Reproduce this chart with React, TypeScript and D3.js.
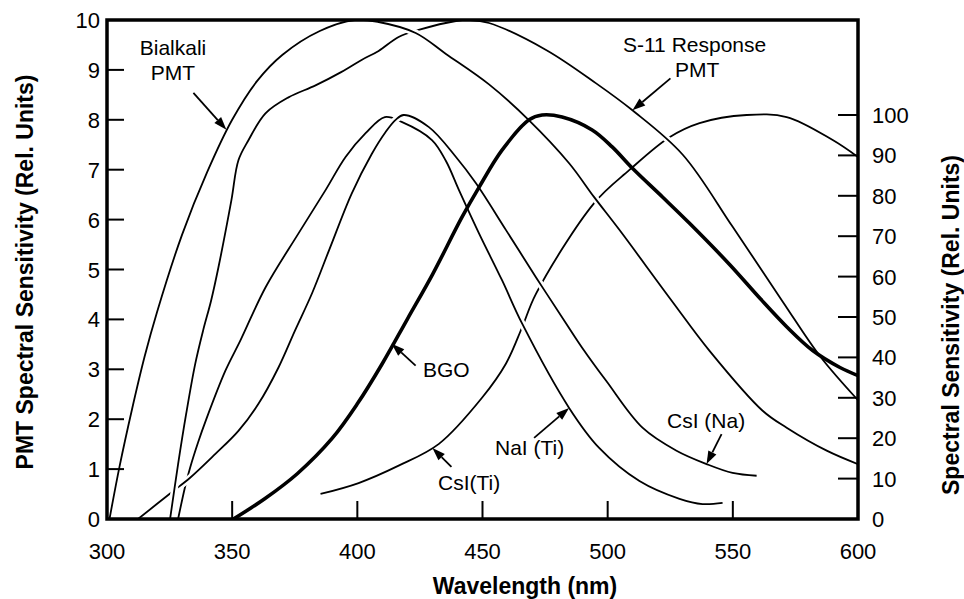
import React, { useRef, useEffect } from "react";
import * as d3 from "d3";

type Pt = [number, number];

// [wavelength nm, PMT sensitivity 0-10] (left axis)
const bialkaliPmt: Pt[] = [
  [301, 0], [305, 1.05], [310, 2.2], [315, 3.25], [320, 4.15], [330, 5.7], [340, 6.95],
  [350, 8.0], [360, 8.78], [370, 9.3], [385, 9.78], [399, 10.0], [408.5, 9.96], [423.3, 9.74],
  [435.4, 9.32], [452.6, 8.71], [468.6, 7.99], [484.6, 7.13], [494.6, 6.45], [504.6, 5.8],
  [525.5, 4.38], [540.7, 3.37], [561.9, 2.17], [571.5, 1.83], [587.5, 1.37], [600, 1.1],
];

const s11Pmt: Pt[] = [
  [325.2, 0], [328.4, 1.1], [331.6, 2.1], [335.2, 3.1], [338.4, 3.78], [341.6, 4.38],
  [344.5, 5.04], [349.7, 6.39], [352.5, 7.19], [356.5, 7.59], [363.3, 8.13], [372.5, 8.45],
  [383.3, 8.69], [393.7, 8.96], [401.7, 9.2], [408.5, 9.38], [416.5, 9.66], [424.5, 9.8],
  [439.4, 9.98], [445, 10], [452.6, 9.94], [475.4, 9.4], [495.4, 8.73], [509.9, 8.19],
  [530, 7.3], [550, 5.85], [570, 4.35], [585, 3.25], [600, 2.38],
];

// [wavelength nm, emission 0-100] (right axis)
const naiTl: Pt[] = [
  [328.4, 0], [331.2, 8], [333.2, 12.7], [336.4, 19], [339.6, 24.6], [347.3, 36.7],
  [353.3, 44.2], [363.3, 57.3], [376.5, 70.7], [387.3, 81.4], [395.3, 89.6], [403.3, 95.5],
  [411, 99.5], [417.7, 98.3], [429.8, 93.8], [435.4, 88.6], [440.6, 81.4], [448.6, 70.7],
  [457.8, 59.1], [465.8, 48.4], [484.6, 27.5], [496.6, 17.6], [512.7, 9.4], [528.7, 5.0],
  [537.9, 3.7], [545.9, 4.0],
];

const csiNa: Pt[] = [
  [312.4, 0], [325.6, 6.5], [333.2, 10.2], [343.3, 16.1], [352.5, 21.8], [360.5, 28.5],
  [368.5, 37.5], [375, 46.5], [382, 56], [389, 67], [397.7, 80.5], [405.7, 90.3],
  [411.3, 95.8], [415.3, 98.8], [418.5, 100], [428.6, 97.0], [439.4, 89.6], [447.4, 83.1],
  [459.4, 71.5], [471.4, 59.8], [483.4, 48.4], [489.8, 42.4], [499.4, 34.2], [513.9, 22.6],
  [527.5, 16.9], [539.5, 13.6], [549.9, 11.4], [559.5, 10.7],
];

const csiTl: Pt[] = [
  [385.3, 6.2], [400.5, 8.9], [416.5, 13.2], [432.6, 18.6], [449.8, 30], [459.4, 38.5],
  [465.8, 47.4], [471.4, 55.8], [494.6, 78.2], [508.7, 86.4], [524.7, 94.5], [536.7, 98.0],
  [555.5, 100], [571.5, 99.5], [589.9, 93.8], [600, 89.6],
];

const bgo: Pt[] = [
  [350.5, 0], [363, 5], [376, 11.2], [390, 20], [400, 28.5], [410, 38.5], [420, 49.5],
  [430, 60.5], [441.8, 74.7], [448.6, 82.1], [457.8, 91.3], [468.6, 98.8], [473.8, 100],
  [481.8, 99.5], [493.8, 96.3], [501.8, 92.1], [509.9, 86.8], [521.9, 79.7], [532.7, 73.2],
  [548.7, 63.0], [561, 54.5], [571.5, 47.6], [581.9, 41.7], [592.8, 37.5], [600, 35.5],
];

const xTicks = [300, 350, 400, 450, 500, 550, 600];
const leftTicks = [0, 1, 2, 3, 4, 5, 6, 7, 8, 9, 10];
const rightTicks = [0, 10, 20, 30, 40, 50, 60, 70, 80, 90, 100];

const FONT = "'Liberation Sans', Arial, Helvetica, sans-serif";

export default function App() {
  const svgRef = useRef<SVGSVGElement>(null);
  const width = 964;
  const height = 599;

  useEffect(() => {
    if (!svgRef.current) return;
    const svg = d3.select(svgRef.current);
    svg.selectAll("*").remove();

    const L = 107, R = 858, T = 20, B = 519;
    const x = d3.scaleLinear().domain([300, 600]).range([L, R]);
    const yL = d3.scaleLinear().domain([0, 10]).range([B, T]);
    const yR = d3.scaleLinear().domain([0, 100]).range([B, 115]);

    svg.append("defs").append("clipPath").attr("id", "plot")
      .append("rect").attr("x", L).attr("y", T).attr("width", R - L).attr("height", B - T);

    const g = svg.append("g").attr("clip-path", "url(#plot)");

    const mk = (y: d3.ScaleLinear<number, number>) =>
      d3.line<Pt>().x((d) => x(d[0])).y((d) => y(d[1])).curve(d3.curveCatmullRom.alpha(0.5));

    // curves, bottom to top; the white casing breaks lines drawn earlier at crossings
    const curves: { data: Pt[]; y: d3.ScaleLinear<number, number>; w: number; halo: boolean }[] = [
      { data: csiTl, y: yR, w: 1.8, halo: false },
      { data: naiTl, y: yR, w: 1.8, halo: true },
      { data: csiNa, y: yR, w: 1.8, halo: true },
      { data: s11Pmt, y: yL, w: 1.8, halo: true },
      { data: bialkaliPmt, y: yL, w: 1.8, halo: true },
      { data: bgo, y: yR, w: 3.6, halo: false },
    ];
    curves.forEach((c) => {
      const d = mk(c.y)(c.data);
      if (c.halo) {
        g.append("path").attr("d", d).attr("fill", "none")
          .attr("stroke", "#fff").attr("stroke-width", 7);
      }
      g.append("path").attr("d", d).attr("fill", "none")
        .attr("stroke", "#000").attr("stroke-width", c.w).attr("stroke-linejoin", "round");
    });

    // frame
    svg.append("rect").attr("x", L).attr("y", T).attr("width", R - L).attr("height", B - T)
      .attr("fill", "none").attr("stroke", "#000").attr("stroke-width", 3.5);

    // left ticks + labels
    leftTicks.forEach((t) => {
      if (t > 0 && t < 10) {
        svg.append("line").attr("x1", L).attr("x2", L + 17).attr("y1", yL(t)).attr("y2", yL(t))
          .attr("stroke", "#000").attr("stroke-width", 2);
      }
      svg.append("text").attr("x", 100).attr("y", yL(t) + 8).attr("text-anchor", "end")
        .style("font-family", FONT).style("font-size", "22px").text(String(t));
    });

    // right ticks + labels
    rightTicks.forEach((t) => {
      if (t > 0) {
        svg.append("line").attr("x1", R - 20).attr("x2", R).attr("y1", yR(t)).attr("y2", yR(t))
          .attr("stroke", "#000").attr("stroke-width", 2);
      }
      svg.append("text").attr("x", 872).attr("y", yR(t) + 8)
        .style("font-family", FONT).style("font-size", "22px").text(String(t));
    });

    // bottom ticks + labels
    xTicks.forEach((t) => {
      if (t > 300 && t < 600) {
        svg.append("line").attr("x1", x(t)).attr("x2", x(t)).attr("y1", B - 18).attr("y2", B)
          .attr("stroke", "#000").attr("stroke-width", 2);
      }
      svg.append("text").attr("x", x(t)).attr("y", 559).attr("text-anchor", "middle")
        .style("font-family", FONT).style("font-size", "22px").text(String(t));
    });

    // axis titles
    svg.append("text").attr("x", 525).attr("y", 594).attr("text-anchor", "middle")
      .style("font-family", FONT).style("font-size", "23px").style("font-weight", "bold")
      .text("Wavelength (nm)");
    svg.append("text").attr("transform", "translate(33,272) rotate(-90)").attr("text-anchor", "middle")
      .style("font-family", FONT).style("font-size", "23px").style("font-weight", "bold")
      .text("PMT Spectral Sensitivity (Rel. Units)");
    svg.append("text").attr("transform", "translate(959,325) rotate(-90)").attr("text-anchor", "middle")
      .style("font-family", FONT).style("font-size", "23px").style("font-weight", "bold")
      .text("Spectral Sensitivity (Rel. Units)");

    // annotations: arrow tip on the curve, tail offset in px
    const arrow = (tx: number, ty: number, dx: number, dy: number) => {
      const sx = tx + dx, sy = ty + dy;
      const len = Math.hypot(dx, dy);
      const ux = -dx / len, uy = -dy / len;
      const hl = 13, hw = 4.5;
      const bx = tx - ux * hl, by = ty - uy * hl;
      svg.append("line").attr("x1", sx).attr("y1", sy).attr("x2", bx).attr("y2", by)
        .attr("stroke", "#000").attr("stroke-width", 1.8);
      svg.append("polygon")
        .attr("points", `${tx},${ty} ${bx - uy * hw},${by + ux * hw} ${bx + uy * hw},${by - ux * hw}`)
        .attr("fill", "#000");
    };
    const label = (tx: number, ty: number, s: string, anchor = "start") =>
      svg.append("text").attr("x", tx).attr("y", ty).attr("text-anchor", anchor)
        .style("font-family", FONT).style("font-size", "21px").text(s);

    arrow(x(347.7), yL(7.8), -33, -37);
    label(173, 55, "Bialkali", "middle");
    label(173, 80, "PMT", "middle");

    arrow(x(509.9), yL(8.19), 38, -32);
    label(623, 52, "S-11 Response");
    label(675, 77, "PMT");

    arrow(x(413.7), yR(43.4), 24, 22);
    label(423, 377, "BGO");

    arrow(x(430), yR(17.6), 19, 19);
    label(438, 490, "CsI(Ti)");

    arrow(x(484.6), yR(27.5), -35, 30);
    label(495, 455, "NaI (Ti)");

    arrow(x(539.5), yR(13.6), 15, -30);
    label(667, 428, "CsI (Na)");
  }, []);

  return (
    <svg
      ref={svgRef}
      width={width}
      height={height}
      viewBox={`0 0 ${width} ${height}`}
      style={{ position: "absolute", left: 0, top: 0, background: "#fff" }}
    />
  );
}
